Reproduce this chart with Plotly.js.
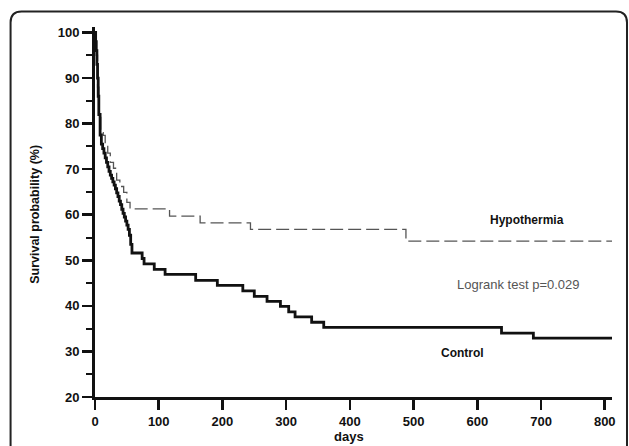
<!DOCTYPE html>
<html>
<head>
<meta charset="utf-8">
<script src="https://cdn.plot.ly/plotly-3.0.1.min.js"></script>
<style>
  html, body { margin: 0; padding: 0; background: #fff; overflow: hidden; }
  #chart { width: 629px; height: 446px; }
</style>
</head>
<body>
<div id="chart"></div>
<script>
// Kaplan-Meier step data (days, survival %), value after each drop
const controlDays = [0, 1, 2, 3, 4, 5, 6, 8, 10, 12, 14, 16, 18, 20, 22, 24, 26, 28, 30, 32, 34, 36, 38, 40, 42, 44, 46, 48, 50, 52, 54, 56, 58, 74, 77, 93, 110, 158, 192, 232, 250, 270, 291, 304, 314, 340, 359, 638, 688, 812];
const controlSurv = [100, 98, 96, 93, 90, 86, 82, 77.5, 75.5, 74.5, 73.5, 72.5, 71.5, 70.5, 69.5, 68.7, 68, 67.2, 66.5, 65.7, 64.8, 64, 63, 62.2, 61.2, 60.3, 59.5, 58.6, 57.7, 56.8, 55.5, 53.5, 51.6, 50.4, 49.2, 48.0, 46.9, 45.6, 44.5, 43.3, 42.1, 41.0, 39.9, 38.7, 37.6, 36.4, 35.3, 34.0, 32.9, 32.9];

const hypoDays = [0, 2, 4, 6, 9, 13, 16, 20, 24, 29, 34, 39, 45, 50, 55, 117, 165, 244, 488, 812];
const hypoSurv = [100, 95, 88, 82, 78, 77.4, 75, 73.5, 71.5, 70.2, 67.6, 66.2, 64.9, 62.7, 61.3, 59.7, 58.2, 56.8, 54.2, 54.2];

const xTickVals = [0, 100, 200, 300, 400, 500, 600, 700, 800];
const yTickVals = [20, 30, 40, 50, 60, 70, 80, 90, 100];

const groupLabels = ["Hypothermia", "Control"];
const testLabel = "Logrank test p=0.029";
const xTitle = "days";
const yTitle = "Survival probability (%)";

// layout geometry
const L = 94.5, R = 17, T = 26.5, B = 49;
const W = 629, H = 446;
const pw = W - L - R, ph = H - T - B;
const px = v => ((v - L) / pw).toFixed(4);
const py = v => ((H - B - v) / ph).toFixed(4);

// rounded frame path in paper coords
const fl = 10, ft = 11, fr = 627, fb = 470, rad = 11;
const framePath =
  `M ${px(fl)} ${py(fb)} L ${px(fl)} ${py(ft + rad)} ` +
  `Q ${px(fl)} ${py(ft)} ${px(fl + rad)} ${py(ft)} ` +
  `L ${px(fr - rad)} ${py(ft)} ` +
  `Q ${px(fr)} ${py(ft)} ${px(fr)} ${py(ft + rad)} ` +
  `L ${px(fr)} ${py(fb)}`;

const fam = "Liberation Sans, Arial, sans-serif";
const boldFont = { family: fam, size: 12, color: "#111", weight: "bold" };
const tickFont = { family: fam, size: 13, color: "#111", weight: "bold" };

const traces = [
  {
    x: hypoDays, y: hypoSurv, type: "scatter", mode: "lines",
    line: { shape: "hv", color: "#555", width: 1.3, dash: "13px,5px" },
    name: groupLabels[0], hoverinfo: "skip"
  },
  {
    x: controlDays, y: controlSurv, type: "scatter", mode: "lines",
    line: { shape: "hv", color: "#111", width: 2.8 },
    name: groupLabels[1], hoverinfo: "skip"
  }
];

const layout = {
  width: W, height: H,
  margin: { l: L, r: R, t: T, b: B, pad: 0 },
  paper_bgcolor: "#fff", plot_bgcolor: "#fff",
  showlegend: false,
  xaxis: {
    range: [0, 811.4], tickvals: xTickVals, ticktext: xTickVals.map(String),
    ticks: "outside", ticklen: 10, tickwidth: 2.5, tickcolor: "#111",
    showline: true, linewidth: 3, linecolor: "#111",
    showgrid: false, zeroline: false, tickfont: tickFont, fixedrange: true
  },
  yaxis: {
    range: [20, 101.2], tickvals: yTickVals, ticktext: yTickVals.map(String),
    ticks: "outside", ticklen: 10, tickwidth: 2.5, tickcolor: "#111",
    minor: { dtick: 5, tick0: 15, ticks: "outside", ticklen: 6, tickwidth: 2, tickcolor: "#111" },
    showline: true, linewidth: 3, linecolor: "#111",
    showgrid: false, zeroline: false, tickfont: tickFont, fixedrange: true
  },
  shapes: [
    { type: "path", xref: "paper", yref: "paper", path: framePath,
      line: { color: "#222", width: 2 }, layer: "above" }
  ],
  annotations: [
    { x: 678, y: 58.8, xref: "x", yref: "y", text: groupLabels[0], showarrow: false, font: boldFont },
    { x: 576, y: 29.6, xref: "x", yref: "y", text: groupLabels[1], showarrow: false, font: boldFont },
    { x: 664, y: 44.8, xref: "x", yref: "y", text: testLabel, showarrow: false,
      font: { family: fam, size: 13, color: "#555" } },
    { x: Number(px(349)), y: Number(py(437)), xref: "paper", yref: "paper", xanchor: "center", yanchor: "middle",
      text: xTitle, showarrow: false, font: tickFont },
    { x: Number(px(35)), y: Number(py(214)), xref: "paper", yref: "paper", xanchor: "center", yanchor: "middle",
      text: yTitle, textangle: -90, showarrow: false, font: { family: fam, size: 12.5, color: "#111", weight: "bold" } }
  ]
};

Plotly.newPlot("chart", traces, layout, { staticPlot: true, displayModeBar: false });
</script>
</body>
</html>
